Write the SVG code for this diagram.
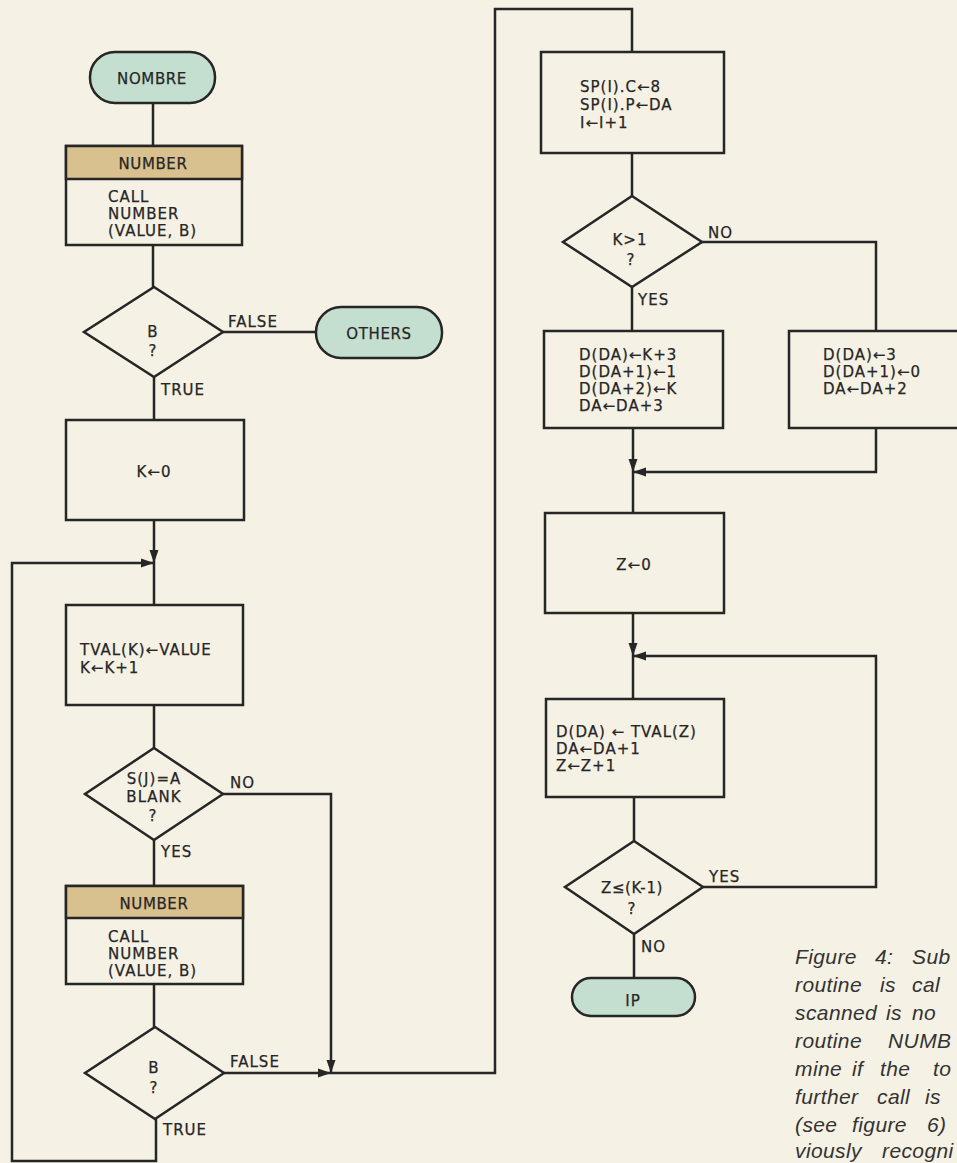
<svg xmlns="http://www.w3.org/2000/svg" width="957" height="1163" viewBox="0 0 957 1163">
<style>
.bg{fill:#f5f1e4}
.box{fill:#f5f1e4;stroke:#262626;stroke-width:2.5}
.term{fill:#c4dfcf;stroke:#262626;stroke-width:2.5}
.hdr{fill:#d9c08f;stroke:#262626;stroke-width:2.5}
.ln{fill:none;stroke:#262626;stroke-width:2.5}
text{font-family:"DejaVu Sans","Liberation Sans",sans-serif;font-size:15px;fill:#262626;stroke:#262626;stroke-width:0.25px;letter-spacing:1px}
.c{text-anchor:middle}
.h{font-size:15px;letter-spacing:0.6px}
.lbl{font-size:15px;letter-spacing:1px}
.cap{font-family:"Liberation Sans","DejaVu Sans",sans-serif;font-style:italic;font-size:21px;fill:#333;stroke:none;letter-spacing:0.4px}
</style>
<defs>
<marker id="ah" markerUnits="userSpaceOnUse" markerWidth="14" markerHeight="10" refX="13" refY="5" orient="auto">
<path d="M0,0.5 L13,5 L0,9.5 Z" fill="#262626"/>
</marker>
</defs>
<rect class="bg" x="0" y="0" width="957" height="1163"/>

<g id="connectors">
<path class="ln" d="M153,103 V146"/>
<path class="ln" d="M153,245 V287"/>
<path class="ln" d="M223,332 H316"/>
<path class="ln" d="M154,377 V420"/>
<path class="ln" d="M154,520 V563" marker-end="url(#ah)"/>
<path class="ln" d="M156,1119 V1161 H12 V563 H154" marker-end="url(#ah)"/>
<path class="ln" d="M154,563 V605"/>
<path class="ln" d="M154,705 V748"/>
<path class="ln" d="M223,794 H331 V1073" marker-end="url(#ah)"/>
<path class="ln" d="M154,840 V886"/>
<path class="ln" d="M154,984 V1027"/>
<path class="ln" d="M224,1073 H331" marker-end="url(#ah)"/>
<path class="ln" d="M331,1073 H495 V9 H632 V52"/>
<path class="ln" d="M632,153 V196"/>
<path class="ln" d="M702,242 H876 V331"/>
<path class="ln" d="M632,287 V331"/>
<path class="ln" d="M633,428 V472" marker-end="url(#ah)"/>
<path class="ln" d="M876,428 V472 H633" marker-end="url(#ah)"/>
<path class="ln" d="M633,472 V513"/>
<path class="ln" d="M633,613 V656" marker-end="url(#ah)"/>
<path class="ln" d="M703,887 H876 V656 H633" marker-end="url(#ah)"/>
<path class="ln" d="M633,656 V699"/>
<path class="ln" d="M634,797 V841"/>
<path class="ln" d="M634,934 V978"/>
</g>

<g id="labels">
<text class="lbl" x="228" y="327">FALSE</text>
<text class="lbl" x="161" y="395">TRUE</text>
<text class="lbl" x="230" y="788">NO</text>
<text class="lbl" x="161" y="857">YES</text>
<text class="lbl" x="230" y="1067">FALSE</text>
<text class="lbl" x="163" y="1135">TRUE</text>
<text class="lbl" x="708" y="238">NO</text>
<text class="lbl" x="638" y="305">YES</text>
<text class="lbl" x="709" y="882">YES</text>
<text class="lbl" x="641" y="952">NO</text>
</g>

<g id="nombre">
<rect class="term" x="90" y="52" width="125" height="51" rx="25"/>
<text class="c h" x="152" y="84">NOMBRE</text>
</g>

<g id="number1">
<rect class="box" x="66" y="146" width="176" height="99"/>
<rect class="hdr" x="66" y="146" width="176" height="33"/>
<text class="c h" x="153" y="169">NUMBER</text>
<text x="108" y="202">CALL</text>
<text x="108" y="219">NUMBER</text>
<text x="108" y="236">(VALUE, B)</text>
</g>

<g id="decision-b1">
<polygon class="box" points="154,287 223,332 154,377 84,332"/>
<text class="c" x="153" y="337">B</text>
<text class="c" x="153" y="356">?</text>
</g>

<g id="others">
<rect class="term" x="316" y="307" width="126" height="51" rx="25"/>
<text class="c h" x="379" y="339">OTHERS</text>
</g>

<g id="k0">
<rect class="box" x="66" y="420" width="178" height="100"/>
<text class="c" x="154" y="477">K←0</text>
</g>

<g id="tval">
<rect class="box" x="66" y="605" width="177" height="100"/>
<text x="80" y="655">TVAL(K)←VALUE</text>
<text x="80" y="673">K←K+1</text>
</g>

<g id="decision-blank">
<polygon class="box" points="154,748 223,794 154,840 85,794"/>
<text class="c" x="154" y="784">S(J)=A</text>
<text class="c" x="154" y="802">BLANK</text>
<text class="c" x="153" y="821">?</text>
</g>

<g id="number2">
<rect class="box" x="66" y="886" width="177" height="98"/>
<rect class="hdr" x="66" y="886" width="177" height="32"/>
<text class="c h" x="154" y="909">NUMBER</text>
<text x="108" y="942">CALL</text>
<text x="108" y="959">NUMBER</text>
<text x="108" y="976">(VALUE, B)</text>
</g>

<g id="decision-b2">
<polygon class="box" points="155,1027 224,1073 155,1119 85,1073"/>
<text class="c" x="154" y="1073">B</text>
<text class="c" x="154" y="1093">?</text>
</g>

<g id="sp">
<rect class="box" x="541" y="52" width="183" height="101"/>
<text x="580" y="92">SP(I).C←8</text>
<text x="580" y="110">SP(I).P←DA</text>
<text x="580" y="128">I←I+1</text>
</g>

<g id="decision-k1">
<polygon class="box" points="632,196 702,242 632,287 563,242"/>
<text class="c" x="630" y="245">K&gt;1</text>
<text class="c" x="631" y="265">?</text>
</g>

<g id="yes-box">
<rect class="box" x="544" y="331" width="179" height="97"/>
<text x="579" y="360">D(DA)←K+3</text>
<text x="579" y="377">D(DA+1)←1</text>
<text x="579" y="394">D(DA+2)←K</text>
<text x="579" y="411">DA←DA+3</text>
</g>

<g id="no-box">
<rect class="box" x="789" y="331" width="200" height="97"/>
<text x="823" y="360">D(DA)←3</text>
<text x="823" y="377">D(DA+1)←0</text>
<text x="823" y="394">DA←DA+2</text>
</g>

<g id="z0">
<rect class="box" x="545" y="513" width="179" height="100"/>
<text class="c" x="634" y="570">Z←0</text>
</g>

<g id="ddz">
<rect class="box" x="546" y="699" width="178" height="98"/>
<text x="556" y="737">D(DA) ← TVAL(Z)</text>
<text x="556" y="754">DA←DA+1</text>
<text x="556" y="771">Z←Z+1</text>
</g>

<g id="decision-z">
<polygon class="box" points="634,841 703,887 634,934 565,887"/>
<text class="c" x="632" y="893" style="letter-spacing:0.6px">Z≤(K-1)</text>
<text class="c" x="632" y="914">?</text>
</g>

<g id="ip">
<rect class="term" x="572" y="978" width="123" height="38" rx="19"/>
<text class="c" x="633" y="1006">IP</text>
</g>

<g id="caption">
<text class="cap" y="964"><tspan x="795">Figure</tspan><tspan x="875">4:</tspan><tspan x="912">Sub</tspan></text>
<text class="cap" y="992"><tspan x="795">routine</tspan><tspan x="880">is</tspan><tspan x="912">cal</tspan></text>
<text class="cap" y="1020"><tspan x="795">scanned</tspan><tspan x="886">is</tspan><tspan x="912">no</tspan></text>
<text class="cap" y="1048"><tspan x="795">routine</tspan><tspan x="888">NUMB</tspan></text>
<text class="cap" y="1076"><tspan x="795">mine</tspan><tspan x="852">if</tspan><tspan x="880">the</tspan><tspan x="933">to</tspan></text>
<text class="cap" y="1104"><tspan x="795">further</tspan><tspan x="877">call</tspan><tspan x="925">is</tspan></text>
<text class="cap" y="1132"><tspan x="795">(see</tspan><tspan x="852">figure</tspan><tspan x="927">6)</tspan></text>
<text class="cap" y="1158"><tspan x="795">viously</tspan><tspan x="882">recogni</tspan></text>
</g>
</svg>
